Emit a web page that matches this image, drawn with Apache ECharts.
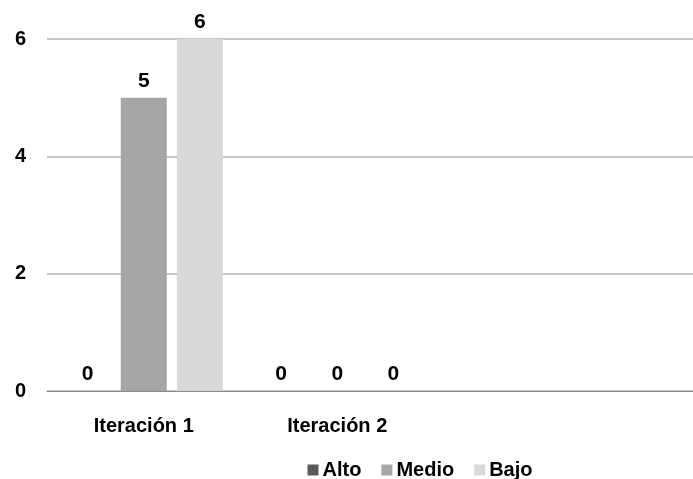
<!DOCTYPE html>
<html>
<head>
<meta charset="utf-8">
<script src="https://cdn.jsdelivr.net/npm/echarts@6/dist/echarts.min.js"></script>
<style>
  html, body { margin: 0; padding: 0; background: #ffffff; overflow: hidden; }
  #frame { width: 693px; height: 479px; overflow: hidden; position: relative; }
  #chart { width: 840px; height: 479px; }
</style>
</head>
<body>
<div id="frame"><div id="chart"></div></div>
<script>
// Categories and series values
var categories = ['Iteración 1', 'Iteración 2'];
var seriesNames = ['Alto', 'Medio', 'Bajo'];
var alto = [0, 0];
var medio = [5, 0];
var bajo = [6, 0];
var yTicks = [0, 2, 4, 6];

var colors = ['#595959', '#a6a6a6', '#d9d9d9'];
var font = '"Liberation Sans", Arial, sans-serif';

// The plot continues past the visible frame with two unlabeled slots
var axisData = categories.concat(['', '']);

function makeSeries(name, values, color) {
  return {
    name: name,
    type: 'bar',
    data: values,
    barWidth: 46,
    barGap: '22%',
    itemStyle: { color: color },
    label: {
      show: true,
      position: 'top',
      distance: 6,
      color: '#000',
      fontFamily: font,
      fontWeight: 'bold',
      fontSize: 21
    }
  };
}

var chart = echarts.init(document.getElementById('chart'), null, { renderer: 'canvas' });
chart.setOption({
  animation: false,
  backgroundColor: '#ffffff',
  color: colors,
  grid: { left: 47, top: 39, bottom: 88, right: 19, containLabel: false },
  legend: {
    data: seriesNames,
    left: 'center',
    top: 455,
    icon: 'rect',
    itemWidth: 11,
    itemHeight: 11,
    itemGap: 20,
    textStyle: { fontFamily: font, fontWeight: 'bold', fontSize: 20, color: '#000', padding: [0, 0, 0, -1] }
  },
  xAxis: {
    type: 'category',
    data: axisData,
    axisLine: { lineStyle: { color: '#8a8a8a', width: 1 } },
    axisTick: { show: false },
    axisLabel: {
      interval: 0,
      margin: 25,
      color: '#000',
      fontFamily: font,
      fontWeight: 'bold',
      fontSize: 20
    }
  },
  yAxis: {
    type: 'value',
    min: yTicks[0],
    max: yTicks[yTicks.length - 1],
    interval: 2,
    axisLine: { show: false },
    axisTick: { show: false },
    splitLine: { lineStyle: { color: '#b4b4b4', width: 1.5 } },
    axisLabel: {
      margin: 21,
      color: '#000',
      fontFamily: font,
      fontWeight: 'bold',
      fontSize: 20
    }
  },
  series: [
    makeSeries(seriesNames[0], alto, colors[0]),
    makeSeries(seriesNames[1], medio, colors[1]),
    makeSeries(seriesNames[2], bajo, colors[2])
  ]
});
</script>
</body>
</html>
